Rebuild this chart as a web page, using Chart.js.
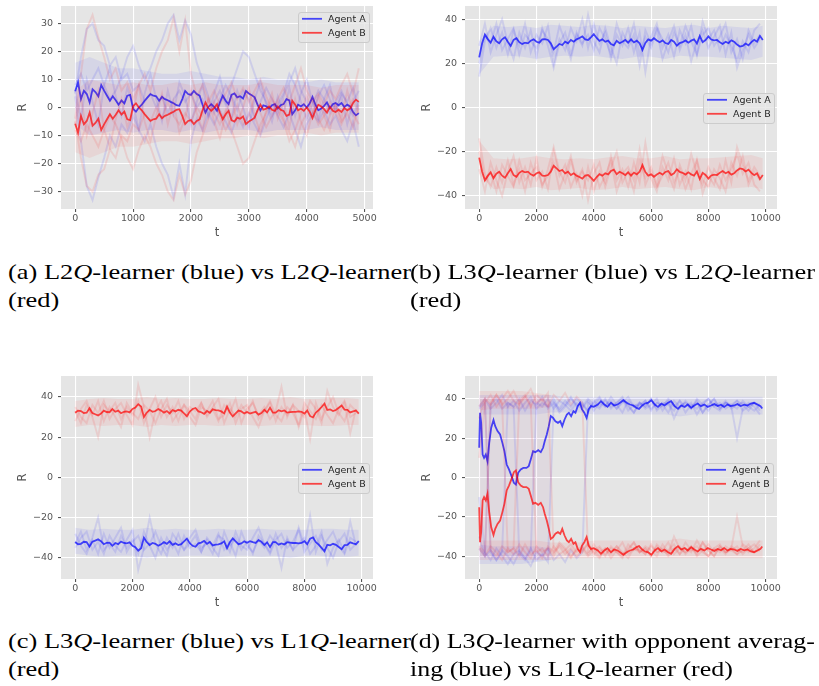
<!DOCTYPE html>
<html>
<head>
<meta charset="utf-8">
<script src="https://cdn.jsdelivr.net/npm/chart.js@4.4.1/dist/chart.umd.min.js"></script>
<style>
  html, body { margin: 0; padding: 0; background: #ffffff; }
  body { width: 819px; height: 686px; position: relative; overflow: hidden; }
  .panel { position: absolute; width: 410px; height: 240px; }
  .panel canvas { display: block; }
  .cap { position: absolute; font-family: "Liberation Serif", "Times New Roman", serif; font-size: 21px; line-height: 28px; color: #000; white-space: nowrap; transform-origin: 0 0; }
</style>
</head>
<body>
<div class="panel" style="left:0;top:0"><canvas id="chartA" width="410" height="240"></canvas></div>
<div class="panel" style="left:404px;top:0"><canvas id="chartB" width="410" height="240"></canvas></div>
<div class="panel" style="left:0;top:370px"><canvas id="chartC" width="410" height="240"></canvas></div>
<div class="panel" style="left:404px;top:370px"><canvas id="chartD" width="410" height="240"></canvas></div>

<div class="cap" data-w="403" style="left:8px;top:258px"><span class="l1">(a) L2<i>Q</i>-learner (blue) vs L2<i>Q</i>-learner</span><br>(red)</div>
<div class="cap" data-w="405" style="left:410px;top:258px"><span class="l1">(b) L3<i>Q</i>-learner (blue) vs L2<i>Q</i>-learner</span><br>(red)</div>
<div class="cap" data-w="403" style="left:8px;top:627px"><span class="l1">(c) L3<i>Q</i>-learner (blue) vs L1<i>Q</i>-learner</span><br>(red)</div>
<div class="cap" data-w="405" style="left:410px;top:627px"><span class="l1">(d) L3<i>Q</i>-learner with opponent averag-</span><br>ing (blue) vs L1<i>Q</i>-learner (red)</div>

<script>
// ---------- time axes ----------
const T_A = [0,50,100,150,200,250,300,350,400,450,500,550,600,650,700,750,800,850,900,950,
  1000,1050,1100,1150,1200,1250,1300,1350,1400,1450,1500,1550,1600,1650,1700,1750,1800,1850,1900,1950,
  2000,2050,2100,2150,2200,2250,2300,2350,2400,2450,2500,2550,2600,2650,2700,2750,2800,2850,2900,2950,
  3000,3050,3100,3150,3200,3250,3300,3350,3400,3450,3500,3550,3600,3650,3700,3750,3800,3850,3900,3950,
  4000,4050,4100,4150,4200,4250,4300,4350,4400,4450,4500,4550,4600,4650,4700,4750,4800,4850,4900];
const T_L = [0,100,200,300,400,500,600,700,800,900,1000,1100,1200,1300,1400,1500,1600,1700,1800,1900,
  2000,2100,2200,2300,2400,2500,2600,2700,2800,2900,3000,3100,3200,3300,3400,3500,3600,3700,3800,3900,
  4000,4100,4200,4300,4400,4500,4600,4700,4800,4900,5000,5100,5200,5300,5400,5500,5600,5700,5800,5900,
  6000,6100,6200,6300,6400,6500,6600,6700,6800,6900,7000,7100,7200,7300,7400,7500,7600,7700,7800,7900,
  8000,8100,8200,8300,8400,8500,8600,8700,8800,8900,9000,9100,9200,9300,9400,9500,9600,9700,9800,9900];
const T_D = [0,30,70,120,170,230,290,350,420,500,560,640,730,810,880,960,1040,1130,1210,1280,
  1360,1450,1540,1650,1730,1800,1880,1960,2060,2150,2230,2290,2360,2430,2500,2580,2660,2750,2830,2900,
  2980,3060,3130,3210,3290,3360,3440,3520,3590,3670,3750,3820,3900,4000,4140,4250,4370,4480,4600,4710,
  4830,4940,5030,5150,5260,5380,5490,5580,5670,5780,5900,6010,6130,6240,6360,6470,6590,6700,6820,6940,
  7050,7170,7280,7400,7510,7630,7740,7860,7980,8090,8210,8320,8440,8550,8670,8780,8900,9010,9130,9250,
  9360,9480,9590,9710,9820,9880];
const T_RUN_A = [0,100,200,300,400,500,600,700,800,900,1000,1100,1200,1300,1400,1500,1600,1700,1800,1900,
  2000,2100,2200,2300,2400,2500,2600,2700,2800,2900,3000,3100,3200,3300,3400,3500,3600,3700,3800,3900,
  4000,4100,4200,4300,4400,4500,4600,4700,4800,4900];
const T_RUN = [0,200,400,600,800,1000,1200,1400,1600,1800,2000,2200,2400,2600,2800,3000,3200,3400,3600,3800,
  4000,4200,4400,4600,4800,5000,5200,5400,5600,5800,6000,6200,6400,6600,6800,7000,7200,7400,7600,7800,
  8000,8200,8400,8600,8800,9000,9200,9400,9600,9800];
const T_BAND_A = [0,250,500,750,1000,1250,1500,1750,2000,2250,2500,2750,3000,3250,3500,3750,4000,4250,4500,4750,4900];
const T_BAND = [0,500,1000,1500,2000,2500,3000,3500,4000,4500,5000,5500,6000,6500,7000,7500,8000,8500,9000,9500,9900];
const T_EARLY = [0,500,1000,1500,2000,2500];

// ---------- tick labels ----------
const XTICKS_A = [0,1000,2000,3000,4000,5000];
const XTICKS_L = [0,2000,4000,6000,8000,10000];
const YTICKS_A = [-30,-20,-10,0,10,20,30];
const YTICKS_L = [-40,-20,0,20,40];
const LABELS = ['Agent A', 'Agent B'];

// ---------- (a) L2Q vs L2Q ----------
const A_MEAN_A = [5.8,9.0,3.0,6.0,4.8,1.8,6.5,5.5,4.0,8.0,
  6.0,4.2,2.4,4.0,2.6,1.0,2.5,1.5,4.2,4.5,
  -0.5,-1.5,0,1.0,2.4,3.6,4.8,4.2,4.0,2.4,
  3.8,3.0,2.6,2.0,1.5,0.8,0.6,3.0,5.9,4.8,
  4.5,5.9,4.8,4.2,1.0,-1.8,0.2,1.2,0.2,-1.2,
  1.8,4.2,2.4,1.2,4.5,5.0,3.6,4.0,3.2,5.9,
  5.0,4.4,3.6,1.0,-1.0,0.8,0.4,-0.4,0.8,1.2,
  -0.4,0.8,1.2,3.0,2.5,-2.4,-1.0,1.0,0.4,1.2,
  0,1.4,3.8,1.0,-1.0,-0.4,0.6,1.8,-0.3,1.2,
  1.6,0.8,1.6,0.2,1.0,0.4,-1.6,-2.8,-2.0];
const B_MEAN_A = [-5.8,-9.0,-3.0,-6.0,-4.8,-1.8,-6.5,-5.5,-4.0,-8.0,
  -6.0,-4.2,-2.4,-4.0,-2.6,-1.0,-2.5,-1.5,-4.2,-4.5,
  0.5,1.5,0,-1.0,-2.4,-3.6,-4.8,-4.2,-4.0,-2.4,
  -3.8,-3.0,-2.6,-2.0,-1.5,-0.8,-0.6,-3.0,-5.9,-4.8,
  -4.5,-5.9,-4.8,-4.2,-1.0,1.8,-0.2,-1.2,-0.2,1.2,
  -1.8,-4.2,-2.4,-1.2,-4.5,-5.0,-3.6,-4.0,-3.2,-5.9,
  -5.0,-4.4,-3.6,-1.0,1.0,-0.8,-0.4,0.4,-0.8,-1.2,
  0.4,-0.8,-1.2,-3.0,-2.5,2.4,1.0,-1.0,-0.4,-1.2,
  0,-1.4,-3.8,-1.0,1.0,0.4,-0.6,-1.8,0.3,-1.2,
  -1.6,-0.8,-1.6,-0.2,-1.0,-0.4,1.6,2.8,2.0];
const A_RUN1_A = [5,18,28,30,24,22,15,18,10,12,6,8,2,5,0,4,-2,3,6,2,5,0,3,-3,2,6,1,8,14,20,18,12,6,2,-3,1,5,12,8,2,-4,1,6,3,-2,2,6,1,-3,2];
const A_RUN2_A = [8,12,6,10,14,8,3,6,11,18,22,15,10,14,20,24,30,33,24,31,26,16,10,4,-2,3,8,4,-1,6,3,-4,2,7,3,-2,4,9,14,6,2,-3,4,8,3,-1,5,2,7,-1];
const A_RUN3_A = [4,-12,-28,-33,-25,-18,-10,-14,-6,-9,-3,-8,-12,-6,-14,-20,-24,-32,-20,-31,-12,-4,-8,-2,-6,-1,-5,-9,-3,-7,-2,-6,-10,-4,1,-3,-7,-2,-8,-14,-6,-2,-5,-1,-6,-3,-8,-12,-5,-14];
const A_RUN4_A = [6,-4,10,2,-6,8,14,4,-3,7,1,-8,5,12,3,-5,6,-2,9,4,-6,2,8,-3,5,11,2,-4,6,0,-7,3,9,1,-5,4,-2,7,-3,5,10,2,-4,3,8,-1,4,-6,2,6];
const B_RUN1_A = [-5,-18,-28,-30,-24,-22,-15,-18,-10,-12,-6,-8,-2,-5,0,-4,2,-3,-6,-2,-5,0,-3,3,-2,-6,-1,-8,-14,-20,-18,-12,-6,-2,3,-1,-5,-12,-8,-2,4,-1,-6,-3,2,-2,-6,-1,3,-2];
const B_RUN2_A = [-8,-12,-6,-10,-14,-8,-3,-6,-11,-18,-22,-15,-10,-14,-20,-24,-30,-33,-24,-31,-26,-16,-10,-4,2,-3,-8,-4,1,-6,-3,4,-2,-7,-3,2,-4,-9,-14,-6,-2,3,-4,-8,-3,1,-5,-2,-7,1];
const B_RUN3_A = [-4,12,28,33,25,18,10,14,6,9,3,8,12,6,14,20,24,32,20,31,12,4,8,2,6,1,5,9,3,7,2,6,10,4,-1,3,7,2,8,14,6,2,5,1,6,3,8,12,5,14];
const B_RUN4_A = [-6,4,-10,-2,6,-8,-14,-4,3,-7,-1,8,-5,-12,-3,5,-6,2,-9,-4,6,-2,-8,3,-5,-11,-2,4,-6,0,7,-3,-9,-1,5,-4,2,-7,3,-5,-10,-2,4,-3,-8,1,-4,6,-2,-6];
const A_HI_A = [16,18,16,14,14,13,12,12,13,12,11,11,10,11,10,10,9,10,9,9,9];
const A_LO_A = [-6,-10,-9,-8,-9,-8,-8,-9,-8,-9,-8,-8,-8,-9,-8,-8,-8,-7,-8,-8,-8];
const B_HI_A = [6,10,9,8,9,8,8,9,8,9,8,8,8,9,8,8,8,7,8,8,8];
const B_LO_A = [-16,-18,-16,-14,-14,-13,-12,-12,-13,-12,-11,-11,-10,-11,-10,-10,-9,-10,-9,-9,-9];

// ---------- (b) L3Q vs L2Q ----------
const A_MEAN_B = [22.7,29,33,31,29.4,32,30,29.1,30.9,31.8,
  29.8,27.9,30.6,31.4,29.6,28.8,29.4,29.1,30.3,30.9,
  29.8,29.4,30.9,31,30.6,29.1,26.4,27.6,28.8,28.3,
  29.8,29.1,30.6,29.8,30.9,31.5,32.2,30.9,30.6,31.8,
  33.2,31.5,30.2,30.9,29.8,30.3,28.8,28.2,30.2,29.1,
  29.8,30.6,29.4,30.9,29.5,30.3,29.1,26.1,29.3,30.9,
  30.3,31.4,30.4,29.6,30.4,29.2,28.8,30.6,29.8,28.0,
  29.2,29.6,30.4,29.4,30.3,30.9,29.0,32.4,29.6,30.6,
  32.2,30.8,30.4,30.6,29.6,28.8,29.8,29.2,30.4,29.8,
  28.5,27.6,27.9,29.0,28.2,29.6,30.7,29.8,32.4,30.6];
const B_MEAN_B = [-22.7,-29,-33,-31,-29.4,-32,-30,-29.1,-30.9,-31.8,
  -29.8,-27.9,-30.6,-31.4,-29.6,-28.8,-29.4,-29.1,-30.3,-30.9,
  -29.8,-29.4,-30.9,-31,-30.6,-29.1,-26.4,-27.6,-28.8,-28.3,
  -29.8,-29.1,-30.6,-29.8,-30.9,-31.5,-32.2,-30.9,-30.6,-31.8,
  -33.2,-31.5,-30.2,-30.9,-29.8,-30.3,-28.8,-28.2,-30.2,-29.1,
  -29.8,-30.6,-29.4,-30.9,-29.5,-30.3,-29.1,-26.1,-29.3,-30.9,
  -30.3,-31.4,-30.4,-29.6,-30.4,-29.2,-28.8,-30.6,-29.8,-28.0,
  -29.2,-29.6,-30.4,-29.4,-30.3,-30.9,-29.0,-32.4,-29.6,-30.6,
  -32.2,-30.8,-30.4,-30.6,-29.6,-28.8,-29.8,-29.2,-30.4,-29.8,
  -28.5,-27.6,-27.9,-29.0,-28.2,-29.6,-30.7,-29.8,-32.4,-30.6];
const A_RUN1_B = [14,30,36,27,34,24,35,28,38,25,33,29,37,20,31,26,36,30,40,27,38,29,34,22,33,28,36,25,34,16,32,38,27,33,23,35,29,37,24,39,31,35,26,33,28,21,30,25,35,38];
const A_RUN2_B = [28,38,25,33,40,29,22,34,27,35,23,36,28,18,29,34,24,33,28,42,30,25,36,27,20,34,29,38,24,32,27,35,22,30,37,26,33,21,30,35,27,32,37,24,34,18,26,33,27,31];
const A_RUN3_B = [20,33,29,38,26,31,36,24,33,30,27,35,31,25,37,30,22,34,29,33,26,36,31,24,38,30,27,33,19,35,29,36,31,25,34,28,37,30,24,33,36,28,32,38,25,31,22,35,29,33];
const B_RUN1_B = [-14,-30,-36,-27,-34,-24,-35,-28,-38,-25,-33,-29,-37,-20,-31,-26,-36,-30,-40,-27,-38,-29,-34,-22,-33,-28,-36,-25,-34,-16,-32,-38,-27,-33,-23,-35,-29,-37,-24,-39,-31,-35,-26,-33,-28,-21,-30,-25,-35,-38];
const B_RUN2_B = [-28,-38,-25,-33,-40,-29,-22,-34,-27,-35,-23,-36,-28,-18,-29,-34,-24,-33,-28,-42,-30,-25,-36,-27,-20,-34,-29,-38,-24,-32,-27,-35,-22,-30,-37,-26,-33,-21,-30,-35,-27,-32,-37,-24,-34,-18,-26,-33,-27,-31];
const B_RUN3_B = [-20,-33,-29,-38,-26,-31,-36,-24,-33,-30,-27,-35,-31,-25,-37,-30,-22,-34,-29,-33,-26,-36,-31,-24,-38,-30,-27,-33,-19,-35,-29,-36,-31,-25,-34,-28,-37,-30,-24,-33,-36,-28,-32,-38,-25,-31,-22,-35,-29,-33];
const A_HI_B = [30,37,36.5,37,36,37.5,37,36.5,37.5,37,36,37,36.5,36,37,37.5,36,37,36.5,36,37];
const A_LO_B = [15,23,23.5,23,22,23,23.5,23,23.5,22.5,22,23,23,22,23.5,23,23,22.5,22,21.5,23];
const B_HI_B = [-15,-23,-23.5,-23,-22,-23,-23.5,-23,-23.5,-22.5,-22,-23,-23,-22,-23.5,-23,-23,-22.5,-22,-21.5,-23];
const B_LO_B = [-30,-37,-36.5,-37,-36,-37.5,-37,-36.5,-37.5,-37,-36,-37,-36.5,-36,-37,-37.5,-36,-37,-36.5,-36,-37];

// ---------- (c) L3Q vs L1Q ----------
const B_MEAN_C = [32.1,33.2,33.0,32.0,32.2,34.4,32.0,31.4,30.8,31.7,
  33.2,32.5,32.4,34.0,32.6,33.2,31.9,32.6,32.8,32.3,
  34.0,34.7,36.4,35.2,30.0,32.2,33.6,32.6,33.0,34.0,
  33.2,32.2,33.0,31.8,33.5,32.8,33.6,33.2,31.8,30.4,
  32.7,34.0,34.5,32.8,32.4,31.6,33.0,32.1,33.8,33.4,
  33.3,32.8,31.8,35.2,32.2,30.3,31.8,33.2,32.8,31.8,
  32.5,31.7,32.2,32.6,31.2,32.0,33.6,32.3,34.6,32.2,
  32.2,33.4,32.8,33.3,32.2,32.4,32.6,32.6,32.8,32.6,
  31.7,33.2,30.5,29.8,32.2,33.4,35.0,36.7,33.5,33.8,
  33.0,33.5,34.6,35.7,33.7,33.6,32.3,32.8,33.2,31.7];
const A_MEAN_C = [-32.1,-33.2,-33.0,-32.0,-32.2,-34.4,-32.0,-31.4,-30.8,-31.7,
  -33.2,-32.5,-32.4,-34.0,-32.6,-33.2,-31.9,-32.6,-32.8,-32.3,
  -34.0,-34.7,-36.4,-35.2,-30.0,-32.2,-33.6,-32.6,-33.0,-34.0,
  -33.2,-32.2,-33.0,-31.8,-33.5,-32.8,-33.6,-33.2,-31.8,-30.4,
  -32.7,-34.0,-34.5,-32.8,-32.4,-31.6,-33.0,-32.1,-33.8,-33.4,
  -33.3,-32.8,-31.8,-35.2,-32.2,-30.3,-31.8,-33.2,-32.8,-31.8,
  -32.5,-31.7,-32.2,-32.6,-31.2,-32.0,-33.6,-32.3,-34.6,-32.2,
  -32.2,-33.4,-32.8,-33.3,-32.2,-32.4,-32.6,-32.6,-32.8,-32.6,
  -31.7,-33.2,-30.5,-29.8,-32.2,-33.4,-35.0,-36.7,-33.5,-33.8,
  -33.0,-33.5,-34.6,-35.7,-33.7,-33.6,-32.3,-32.8,-33.2,-31.7];
const B_RUN1_C = [28,34,38,30,20,36,33,37,29,35,31,38,27,34,40,30,36,32,38,29,35,33,37,30,34,28,36,32,39,27,34,37,31,35,29,33,45,30,36,25,34,19,37,29,35,40,32,28,36,33];
const B_RUN2_C = [35,30,27,36,32,38,29,34,37,31,26,46,35,20,33,38,30,35,28,36,33,29,37,31,35,39,27,34,30,36,32,38,29,33,37,28,35,31,36,33,30,38,34,27,43,35,31,37,22,34];
const B_RUN3_C = [33,27,36,31,38,28,35,30,25,37,32,29,36,33,27,34,39,28,32,36,30,26,35,33,38,29,31,37,27,34,36,30,25,33,38,31,28,35,32,26,37,33,29,36,31,27,34,38,30,32];
const A_RUN1_C = [-28,-34,-38,-30,-20,-36,-33,-37,-29,-35,-31,-38,-27,-34,-40,-30,-36,-32,-38,-29,-35,-33,-37,-30,-34,-28,-36,-32,-39,-27,-34,-37,-31,-35,-29,-33,-45,-30,-36,-25,-34,-19,-37,-29,-35,-40,-32,-28,-36,-33];
const A_RUN2_C = [-35,-30,-27,-36,-32,-38,-29,-34,-37,-31,-26,-46,-35,-20,-33,-38,-30,-35,-28,-36,-33,-29,-37,-31,-35,-39,-27,-34,-30,-36,-32,-38,-29,-33,-37,-28,-35,-31,-36,-33,-30,-38,-34,-27,-43,-35,-31,-37,-22,-34];
const A_RUN3_C = [-33,-27,-36,-31,-38,-28,-35,-30,-25,-37,-32,-29,-36,-33,-27,-34,-39,-28,-32,-36,-30,-26,-35,-33,-38,-29,-31,-37,-27,-34,-36,-30,-25,-33,-38,-31,-28,-35,-32,-26,-37,-33,-29,-36,-31,-27,-34,-38,-30,-32];
const B_HI_C = [38,39,39.5,39,39,40,39,39.5,39,39,39.5,39,39,39.5,39,40,39,39,39.5,39.5,39];
const B_LO_C = [25,26,25.5,26,26,25,26,25.5,26,26,25.5,26,26,25.5,26,26,26,25.5,25.5,26,26];
const A_HI_C = [-25,-26,-25.5,-26,-26,-25,-26,-25.5,-26,-26,-25.5,-26,-26,-25.5,-26,-26,-26,-25.5,-25.5,-26,-26];
const A_LO_C = [-38,-39,-39.5,-39,-39,-40,-39,-39.5,-39,-39,-39.5,-39,-39,-39.5,-39,-40,-39,-39,-39.5,-39.5,-39];

// ---------- (d) L3Q with opponent averaging vs L1Q ----------
const A_MEAN_D = [15.1,32.9,27.8,11.7,10,11.7,8.3,17.6,25.3,29.2,
  26.1,23.6,21.9,17.6,13.4,6.6,4.1,0.7,-2.7,-3.6,
  2.4,4.1,4.9,4.9,5.8,9.2,13.4,12.9,13.9,12.9,
  15.1,18.5,21.9,26.1,31.2,30.3,28.6,27.8,28.6,26.1,
  29.5,32,32.9,31.2,33.7,32.9,36.3,38,34.6,32.9,
  30.3,34.6,36.3,35.9,37.1,38.8,37.1,35.9,38,36.6,
  37.1,38.3,39.3,38,37.1,36.6,35.4,34.9,36.3,37.6,
  38,39.3,37.1,35.9,37.6,36.6,38,38.8,36.3,34.9,
  36.6,35.9,37.1,35.4,36.6,37.6,36.3,37.1,35.9,36.6,
  37.3,36.3,37,35.9,37.1,36.3,36.6,37.3,36.3,37,
  36.6,37.6,38,37.1,36.3,35.1];
const B_MEAN_D = [-15.1,-32.9,-27.8,-11.7,-10,-11.7,-8.3,-17.6,-25.3,-29.2,
  -26.1,-23.6,-21.9,-17.6,-13.4,-6.6,-4.1,-0.7,2.7,3.6,
  -2.4,-4.1,-4.9,-4.9,-5.8,-9.2,-13.4,-12.9,-13.9,-12.9,
  -15.1,-18.5,-21.9,-26.1,-31.2,-30.3,-28.6,-27.8,-28.6,-26.1,
  -29.5,-32,-32.9,-31.2,-33.7,-32.9,-36.3,-38,-34.6,-32.9,
  -30.3,-34.6,-36.3,-35.9,-37.1,-38.8,-37.1,-35.9,-38,-36.6,
  -37.1,-38.3,-39.3,-38,-37.1,-36.6,-35.4,-34.9,-36.3,-37.6,
  -38,-39.3,-37.1,-35.9,-37.6,-36.6,-38,-38.8,-36.3,-34.9,
  -36.6,-35.9,-37.1,-35.4,-36.6,-37.6,-36.3,-37.1,-35.9,-36.6,
  -37.3,-36.3,-37,-35.9,-37.1,-36.3,-36.6,-37.3,-36.3,-37,
  -36.6,-37.6,-38,-37.1,-36.3,-35.1];
const A_RUN1_D = [36,40,35,38,42,36,39,34,38,41,35,38,36,40,34,37,41,36,38,33,39,36,40,35,38,41,36,33,38,36,40,34,37,39,30,36,38,35,39,33,37,40,35,38,36,20,35,38,36,32];
const A_RUN2_D = [-30,-40,-37,-42,-38,38,36,40,34,39,37,41,35,38,33,36,40,37,35,39,34,38,36,41,37,33,39,36,38,35,37,40,34,38,36,39,33,37,35,38,40,36,34,38,37,35,39,36,38,34];
const A_RUN3_D = [35,38,-38,-42,-37,-40,-44,-38,-41,-36,-42,-39,-43,38,35,39,36,40,37,34,38,41,36,38,35,39,37,33,38,36,40,35,38,37,34,39,36,38,32,37,40,36,38,35,37,39,34,36,38,37];
const A_RUN4_D = [-10,-38,-42,-36,-40,-44,-39,-37,-41,-45,-38,-40,-36,-42,-39,-43,-37,-41,-38,38,36,40,37,39,35,38,41,36,37,39,34,38,36,40,37,35,39,36,38,33,37,40,35,38,36,39,37,34,38,36];
const A_RUN5_D = [-36,-40,37,40,35,38,36,-39,-42,-37,38,36,40,35,39,37,34,38,36,40,37,35,39,36,38,40,34,37,36,39,35,38,37,33,39,36,38,35,40,37,34,38,36,39,35,37,38,36,34,37];
const B_RUN1_D = [-36,-40,-35,-38,-42,-36,-39,-34,-38,-41,-35,-38,-36,-40,-34,-37,-41,-36,-38,-33,-39,-36,-40,-35,-38,-41,-36,-33,-38,-36,-40,-34,-37,-39,-30,-36,-38,-35,-39,-33,-37,-40,-35,-38,-36,-20,-35,-38,-36,-32];
const B_RUN2_D = [30,40,37,42,38,-38,-36,-40,-34,-39,-37,-41,-35,-38,-33,-36,-40,-37,-35,-39,-34,-38,-36,-41,-37,-33,-39,-36,-38,-35,-37,-40,-34,-38,-36,-39,-33,-37,-35,-38,-40,-36,-34,-38,-37,-35,-39,-36,-38,-34];
const B_RUN3_D = [-35,-38,38,42,37,40,44,38,41,36,42,39,43,-38,-35,-39,-36,-40,-37,-34,-38,-41,-36,-38,-35,-39,-37,-33,-38,-36,-40,-35,-38,-37,-34,-39,-36,-38,-32,-37,-40,-36,-38,-35,-37,-39,-34,-36,-38,-37];
const B_RUN4_D = [10,38,42,36,40,44,39,37,41,45,38,40,36,42,39,43,37,41,38,-38,-36,-40,-37,-39,-35,-38,-41,-36,-37,-39,-34,-38,-36,-40,-37,-35,-39,-36,-38,-33,-37,-40,-35,-38,-36,-39,-37,-34,-38,-36];
const B_RUN5_D = [36,40,-37,-40,-35,-38,-36,39,42,37,-38,-36,-40,-35,-39,-37,-34,-38,-36,-40,-37,-35,-39,-36,-38,-40,-34,-37,-36,-39,-35,-38,-37,-33,-39,-36,-38,-35,-40,-37,-34,-38,-36,-39,-35,-37,-38,-36,-34,-37];
const A_TOP_HI_D = [42,42,42,42,42,42,41,41,41,41,41,41,41,41,41,41,41,41,41,41,41];
const A_TOP_LO_D = [32,32,32,32,32,33,33,33,32,32,32,32,32,32,31,32,32,32,32,32,32];
const B_BOT_HI_D = [-32,-32,-32,-32,-32,-33,-33,-33,-32,-32,-32,-32,-32,-32,-31,-32,-32,-32,-32,-32,-32];
const B_BOT_LO_D = [-42,-42,-42,-42,-42,-42,-41,-41,-41,-41,-41,-41,-41,-41,-41,-41,-41,-41,-41,-41,-41];
const A_BOT_HI_D = [-34,-35,-35,-35,-35,-36];
const A_BOT_LO_D = [-44,-44,-44,-44,-43,-42];
const B_TOP_HI_D = [44,44,44,44,43,42];
const B_TOP_LO_D = [34,35,35,35,35,36];
const A_SPAN_HI_D = [38,38,38,38,38,37];
const A_SPAN_LO_D = [-40,-40,-40,-40,-40,-39];
const B_SPAN_HI_D = [40,40,40,40,40,39];
const B_SPAN_LO_D = [-38,-38,-38,-38,-38,-37];

// ---------- styling ----------
const BLUE = 'rgba(0,0,255,0.7)', RED = 'rgba(255,0,0,0.7)';
const BLUE_RUN = 'rgba(0,0,255,0.10)', RED_RUN = 'rgba(255,0,0,0.10)';
const BLUE_BAND = 'rgba(0,0,255,0.065)', RED_BAND = 'rgba(255,0,0,0.065)';
const BLUE_SPAN = 'rgba(0,0,255,0.025)', RED_SPAN = 'rgba(255,0,0,0.025)';
const FONT = 'DejaVu Sans';

function series(t, v) { return t.map((x, i) => ({ x, y: v[i] })); }
function mean(label, t, v, color, order) {
  return { label, data: series(t, v), borderColor: color, borderWidth: 1.8, pointRadius: 0, fill: false, order, inLegend: true };
}
function run(t, v, color, order) {
  return { label: '', data: series(t, v), borderColor: color, borderWidth: 2, pointRadius: 0, fill: false, order };
}
function band(t, hi, lo, color, order) {
  return [
    { label: '', data: series(t, hi), borderColor: 'rgba(0,0,0,0)', borderWidth: 0, pointRadius: 0, fill: '+1', backgroundColor: color, order },
    { label: '', data: series(t, lo), borderColor: 'rgba(0,0,0,0)', borderWidth: 0, pointRadius: 0, fill: false, order }
  ];
}

// grey plotting area + inset legend
const panelFrame = {
  id: 'panelFrame',
  beforeDraw(chart) {
    const { ctx, chartArea: a } = chart;
    ctx.save();
    ctx.fillStyle = '#E5E5E5';
    ctx.fillRect(a.left, a.top, a.right - a.left, a.bottom - a.top);
    ctx.restore();
  },
  afterDraw(chart, _args, opts) {
    const { ctx } = chart;
    const entries = chart.data.datasets.filter(d => d.inLegend);
    const x = opts.x, y = opts.y, w = 71, h = 30;
    ctx.save();
    ctx.beginPath();
    ctx.roundRect(x + 0.5, y + 0.5, w, h, 2.5);
    ctx.fillStyle = 'rgba(229,229,229,0.8)';
    ctx.fill();
    ctx.strokeStyle = '#CCCCCC';
    ctx.lineWidth = 1;
    ctx.stroke();
    ctx.font = '9.5px "' + FONT + '"';
    ctx.textBaseline = 'middle';
    entries.forEach((d, i) => {
      const ly = y + 6.8 + i * 14;
      ctx.strokeStyle = d.borderColor;
      ctx.lineWidth = 1.8;
      ctx.beginPath();
      ctx.moveTo(x + 4, ly);
      ctx.lineTo(x + 24, ly);
      ctx.stroke();
      ctx.fillStyle = '#262626';
      ctx.fillText(d.label, x + 30, ly + 0.5);
    });
    ctx.restore();
  }
};

function fmt(v) { return v < 0 ? '\u2212' + (-v) : String(v); }

function axis(range, ticks, title, horizontal) {
  return {
    type: 'linear', min: range[0], max: range[1],
    afterBuildTicks: s => { s.ticks = ticks.map(value => ({ value })); },
    afterFit: s => {
      if (horizontal) { s.height = 31; s.paddingLeft = 0; s.paddingRight = 0; }
      else { s.width = 61; s.paddingTop = 0; s.paddingBottom = 0; }
    },
    ticks: { color: '#555555', font: { family: FONT, size: 9.5 }, padding: horizontal ? 1 : 5, maxRotation: 0, autoSkip: false, callback: v => fmt(v) },
    grid: { color: '#FFFFFF', lineWidth: 1.1, tickColor: '#555555', tickLength: 3 },
    border: { display: false },
    title: { display: true, text: title, color: '#555555', font: { family: FONT, size: 11.5 },
             padding: horizontal ? { top: 0, bottom: 0 } : { top: 16, bottom: 0 } }
  };
}

function makePanel(id, datasets, xr, yr, xt, yt, legendAt) {
  return new Chart(document.getElementById(id), {
    type: 'line',
    data: { datasets },
    options: {
      responsive: false, animation: false, devicePixelRatio: 1, events: [],
      layout: { padding: { left: 0, top: 6, right: 37, bottom: 0 } },
      plugins: { legend: { display: false }, tooltip: { enabled: false }, panelFrame: legendAt },
      scales: { x: axis(xr, xt, 't', true), y: axis(yr, yt, 'R', false) }
    },
    plugins: [panelFrame]
  });
}

// (a)
makePanel('chartA', [
  mean(LABELS[0], T_A, A_MEAN_A, BLUE, 2),
  mean(LABELS[1], T_A, B_MEAN_A, RED, 0),
  ...band(T_BAND_A, A_HI_A, A_LO_A, BLUE_BAND, 3),
  run(T_RUN_A, A_RUN1_A, BLUE_RUN, 3),
  run(T_RUN_A, A_RUN2_A, BLUE_RUN, 3),
  run(T_RUN_A, A_RUN3_A, BLUE_RUN, 3),
  run(T_RUN_A, A_RUN4_A, BLUE_RUN, 3),
  ...band(T_BAND_A, B_HI_A, B_LO_A, RED_BAND, 1),
  run(T_RUN_A, B_RUN1_A, RED_RUN, 1),
  run(T_RUN_A, B_RUN2_A, RED_RUN, 1),
  run(T_RUN_A, B_RUN3_A, RED_RUN, 1),
  run(T_RUN_A, B_RUN4_A, RED_RUN, 1)
], [-245, 5145], [-36.2, 36.2], XTICKS_A, YTICKS_A, { x: 298, y: 12 });

// (b)
makePanel('chartB', [
  mean(LABELS[0], T_L, A_MEAN_B, BLUE, 2),
  mean(LABELS[1], T_L, B_MEAN_B, RED, 0),
  ...band(T_BAND, A_HI_B, A_LO_B, BLUE_BAND, 3),
  run(T_RUN, A_RUN1_B, BLUE_RUN, 3),
  run(T_RUN, A_RUN2_B, BLUE_RUN, 3),
  run(T_RUN, A_RUN3_B, BLUE_RUN, 3),
  ...band(T_BAND, B_HI_B, B_LO_B, RED_BAND, 1),
  run(T_RUN, B_RUN1_B, RED_RUN, 1),
  run(T_RUN, B_RUN2_B, RED_RUN, 1),
  run(T_RUN, B_RUN3_B, RED_RUN, 1)
], [-495, 10395], [-46, 46], XTICKS_L, YTICKS_L, { x: 299, y: 93 });

// (c)
makePanel('chartC', [
  mean(LABELS[0], T_L, A_MEAN_C, BLUE, 2),
  mean(LABELS[1], T_L, B_MEAN_C, RED, 0),
  ...band(T_BAND, A_HI_C, A_LO_C, BLUE_BAND, 3),
  run(T_RUN, A_RUN1_C, BLUE_RUN, 3),
  run(T_RUN, A_RUN2_C, BLUE_RUN, 3),
  run(T_RUN, A_RUN3_C, BLUE_RUN, 3),
  ...band(T_BAND, B_HI_C, B_LO_C, RED_BAND, 1),
  run(T_RUN, B_RUN1_C, RED_RUN, 1),
  run(T_RUN, B_RUN2_C, RED_RUN, 1),
  run(T_RUN, B_RUN3_C, RED_RUN, 1)
], [-495, 10395], [-50.5, 50.4], XTICKS_L, YTICKS_L, { x: 298, y: 93 });

// (d)
makePanel('chartD', [
  mean(LABELS[0], T_D, A_MEAN_D, BLUE, 2),
  mean(LABELS[1], T_D, B_MEAN_D, RED, 0),
  ...band(T_BAND, A_TOP_HI_D, A_TOP_LO_D, BLUE_BAND, 3),
  ...band(T_EARLY, A_BOT_HI_D, A_BOT_LO_D, BLUE_BAND, 3),
  ...band(T_EARLY, A_SPAN_HI_D, A_SPAN_LO_D, BLUE_SPAN, 3),
  run(T_RUN, A_RUN1_D, BLUE_RUN, 3),
  run(T_RUN, A_RUN2_D, BLUE_RUN, 3),
  run(T_RUN, A_RUN3_D, BLUE_RUN, 3),
  run(T_RUN, A_RUN4_D, BLUE_RUN, 3),
  run(T_RUN, A_RUN5_D, BLUE_RUN, 3),
  ...band(T_BAND, B_BOT_HI_D, B_BOT_LO_D, RED_BAND, 1),
  ...band(T_EARLY, B_TOP_HI_D, B_TOP_LO_D, RED_BAND, 1),
  ...band(T_EARLY, B_SPAN_HI_D, B_SPAN_LO_D, RED_SPAN, 1),
  run(T_RUN, B_RUN1_D, RED_RUN, 1),
  run(T_RUN, B_RUN2_D, RED_RUN, 1),
  run(T_RUN, B_RUN3_D, RED_RUN, 1),
  run(T_RUN, B_RUN4_D, RED_RUN, 1),
  run(T_RUN, B_RUN5_D, RED_RUN, 1)
], [-495, 10395], [-51.6, 51.6], XTICKS_L, YTICKS_L, { x: 298, y: 93 });

// stretch each caption so its first line spans the sub-figure width
document.querySelectorAll('.cap').forEach(el => {
  const w = el.querySelector('.l1').getBoundingClientRect().width;
  el.style.transform = 'scaleX(' + (Number(el.dataset.w) / w).toFixed(4) + ')';
});
</script>
</body>
</html>
